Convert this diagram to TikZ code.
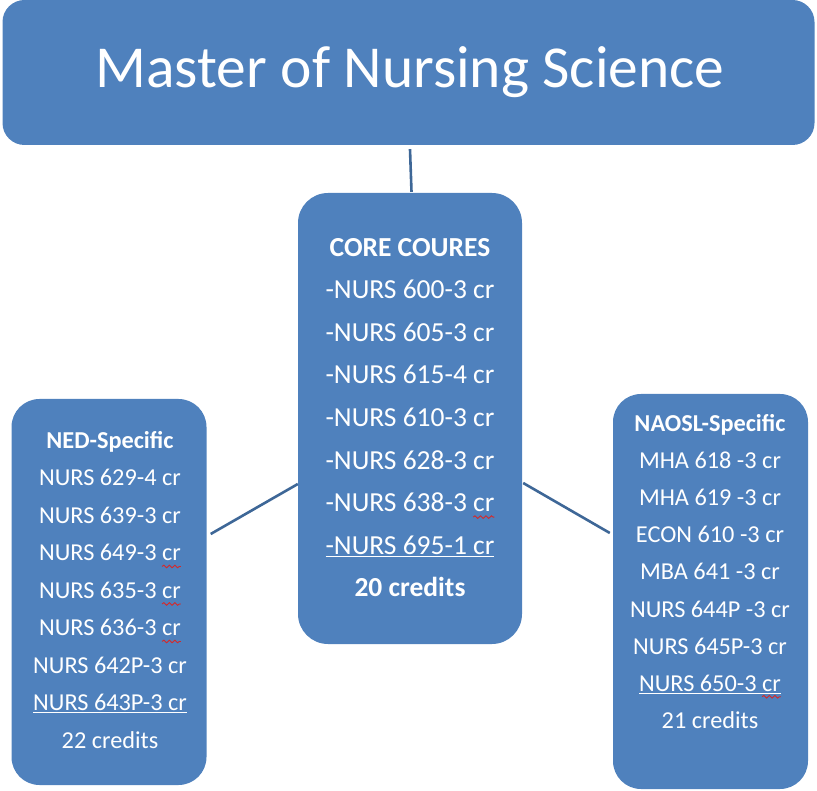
\documentclass[tikz,border=0pt]{standalone}
\usepackage{fontspec}
\setmainfont{Carlito}
\usetikzlibrary{calc,decorations.pathmorphing}
\definecolor{boxblue}{RGB}{79,129,189}
\definecolor{lineblue}{RGB}{62,103,151}
\definecolor{spellred}{RGB}{214,40,40}
\newsavebox\sqbox
\newcommand\sqg[1]{\sbox\sqbox{#1}\rlap{\tikz[overlay,baseline=0pt]\draw[spellred, line width=0.9pt, decorate, decoration={snake, amplitude=1.3pt, segment length=5.5pt}] (0pt,-5.5pt) -- (\wd\sqbox,-5.5pt);}\usebox\sqbox}
\newcommand\ul[1]{\underline{#1}}
\tikzset{
  box/.style={fill=boxblue, draw=none, rounded corners=24pt, inner sep=0pt},
  txt/.style={text=white, align=center, inner sep=0pt},
  conn/.style={draw=lineblue, line width=2.6pt},
}
\begin{document}
\begin{tikzpicture}[x=1pt,y=-1pt]
\useasboundingbox (0,0) rectangle (817,791);
% boxes
\node[box, rounded corners=22pt, minimum width=812pt, minimum height=145pt] (top) at (408.5,72.5) {};
\node[box, rounded corners=30pt, minimum width=224pt, minimum height=451pt] (core) at (410,418.5) {};
\node[box, rounded corners=28pt, minimum width=195pt, minimum height=386pt] (ned) at (109,592) {};
\node[box, rounded corners=28pt, minimum width=195pt, minimum height=395pt] (naosl) at (710.5,591.5) {};
% texts
\node[txt, anchor=base, font=\fontsize{59.5}{70}\selectfont] (title) at (410,88) {Master of Nursing Science};
\node[txt, font=\fontsize{27.5}{42.6}\selectfont] (coretext) at (410,417.5) {%
\textbf{CORE COURES}\\
-NURS 600-3 cr\\
-NURS 605-3 cr\\
-NURS 615-4 cr\\
-NURS 610-3 cr\\
-NURS 628-3 cr\\
-NURS 638-3 \sqg{cr}\\
\ul{-NURS 695-1 cr}\\
\textbf{20 credits}};
\node[txt, font=\fontsize{24.3}{37.5}\selectfont] (nedtext) at (110,590) {%
\textbf{NED-Specific}\\
NURS 629-4 cr\\
NURS 639-3 cr\\
NURS 649-3 \sqg{cr}\\
NURS 635-3 \sqg{cr}\\
NURS 636-3 \sqg{cr}\\
NURS 642P-3 cr\\
\ul{NURS 643P-3 cr}\\
22 credits};
\node[txt, font=\fontsize{24.3}{37.1}\selectfont] (naosltext) at (710,571.5) {%
\textbf{NAOSL-Specific}\\
MHA 618 -3 cr\\
MHA 619 -3 cr\\
ECON 610 -3 cr\\
MBA 641 -3 cr\\
NURS 644P -3 cr\\
NURS 645P-3 cr\\
\ul{NURS 650-3 \sqg{cr}}\\
21 credits};
% connectors
\draw[conn] ([shift={(1.5,4)}]top.south) -- ([shift={(1.5,-1)}]core.north);
\draw[conn] ([shift={(4,-58)}]ned.east) -- ([shift={(0,65.5)}]core.west);
\draw[conn] ([shift={(1,64.5)}]core.east) -- ([shift={(-3,-58.5)}]naosl.west);
\end{tikzpicture}
\end{document}
